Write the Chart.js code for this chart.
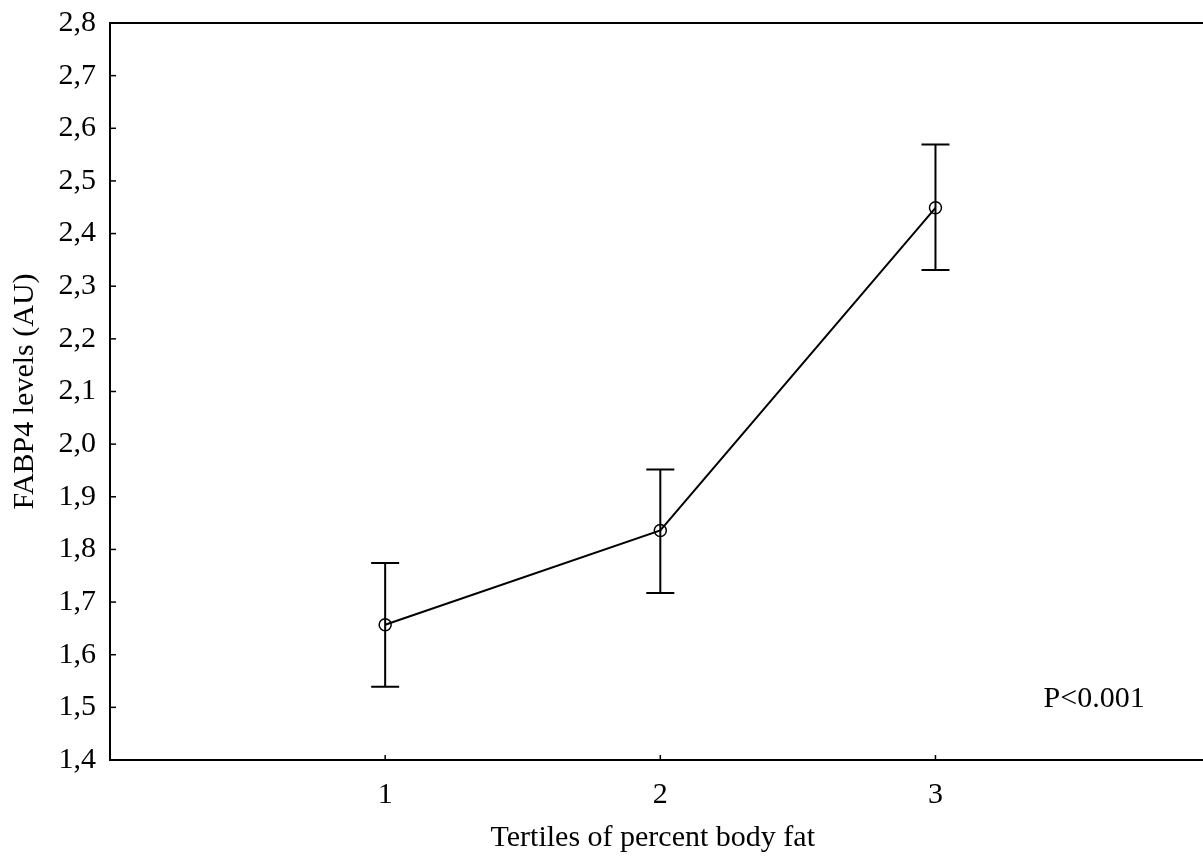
<!DOCTYPE html>
<html>
<head>
<meta charset="utf-8">
<script src="https://cdn.jsdelivr.net/npm/chart.js@4/dist/chart.umd.min.js"></script>
<style>
  html, body { margin: 0; padding: 0; background: #fff; }
  #c { display: block; }
</style>
</head>
<body>
<canvas id="c" width="1203" height="867"></canvas>
<script>
// ---- data ----
const tertiles = [1, 2, 3];
const xTickLabels = ['1', '2', '3'];
const means = [1.657, 1.836, 2.449];
const lowerBars = [1.539, 1.717, 2.331];
const upperBars = [1.774, 1.952, 2.569];
const yMin = 1.4, yMax = 2.8, yStep = 0.1;
const xMin = 0, xMax = 3.945;
const xTitle = 'Tertiles of percent body fat';
const yTitle = 'FABP4 levels (AU)';
const annotationText = 'P<0.001';
const annotationPos = { x: 3.393, y: 1.516 };

const FONT = '"Liberation Serif", "Times New Roman", serif';

function zeroPad(s) { s.paddingTop = 0; s.paddingBottom = 0; s.paddingLeft = 0; s.paddingRight = 0; }

const framePlugin = {
  id: 'frame',
  afterDatasetsDraw(chart) {
    const { ctx, chartArea: a, scales } = chart;
    const xs = scales.x, ys = scales.y;
    const farRight = chart.width;
    ctx.save();
    ctx.strokeStyle = '#000';
    ctx.lineWidth = 2;
    ctx.lineCap = 'butt';
    // frame: top, left, bottom (open on the right, running to the edge)
    ctx.beginPath();
    ctx.moveTo(farRight, a.top); ctx.lineTo(a.left, a.top);
    ctx.lineTo(a.left, a.bottom); ctx.lineTo(farRight, a.bottom);
    ctx.stroke();
    // inward ticks on y
    ctx.lineWidth = 1.5;
    ys.ticks.forEach(t => {
      const y = ys.getPixelForValue(t.value);
      ctx.beginPath(); ctx.moveTo(a.left, y); ctx.lineTo(a.left + 6, y); ctx.stroke();
    });
    // inward ticks on x
    xs.ticks.forEach(t => {
      const x = xs.getPixelForValue(t.value);
      ctx.beginPath(); ctx.moveTo(x, a.bottom); ctx.lineTo(x, a.bottom - 5); ctx.stroke();
    });
    // error bars
    ctx.lineWidth = 2;
    tertiles.forEach((t, i) => {
      const x = xs.getPixelForValue(t);
      const yl = ys.getPixelForValue(lowerBars[i]);
      const yu = ys.getPixelForValue(upperBars[i]);
      ctx.beginPath();
      ctx.moveTo(x, yl); ctx.lineTo(x, yu);
      ctx.moveTo(x - 14, yl); ctx.lineTo(x + 14, yl);
      ctx.moveTo(x - 14, yu); ctx.lineTo(x + 14, yu);
      ctx.stroke();
    });
    // annotation
    ctx.fillStyle = '#000';
    ctx.font = '30px ' + FONT;
    ctx.textAlign = 'left';
    ctx.textBaseline = 'middle';
    ctx.fillText(annotationText, xs.getPixelForValue(annotationPos.x), ys.getPixelForValue(annotationPos.y));
    ctx.restore();
  }
};

new Chart(document.getElementById('c'), {
  type: 'line',
  data: {
    datasets: [{
      data: tertiles.map((t, i) => ({ x: t, y: means[i] })),
      borderColor: '#000',
      borderWidth: 2,
      pointRadius: 6,
      pointBorderWidth: 1.5,
      pointBorderColor: '#000',
      pointBackgroundColor: 'rgba(0,0,0,0)',
      fill: false,
      tension: 0
    }]
  },
  options: {
    responsive: false,
    animation: false,
    layout: { padding: { top: 23, right: 0, left: 0, bottom: 0 } },
    plugins: { legend: { display: false }, tooltip: { enabled: false } },
    scales: {
      x: {
        type: 'linear',
        min: xMin,
        max: xMax,
        afterBuildTicks: s => { s.ticks = tertiles.map(v => ({ value: v })); },
        afterFit: s => { s.height = 107; zeroPad(s); },
        grid: { display: false, drawTicks: false },
        border: { display: false },
        ticks: {
          color: '#000',
          font: { family: FONT, size: 30 },
          padding: 17,
          callback: (v) => xTickLabels[tertiles.indexOf(v)] ?? ''
        },
        title: {
          display: true, text: xTitle, color: '#000',
          font: { family: FONT, size: 30 },
          padding: { top: 0, bottom: 11 }
        }
      },
      y: {
        type: 'linear',
        min: yMin, max: yMax,
        afterFit: s => { s.width = 110; zeroPad(s); },
        grid: { display: false, drawTicks: false },
        border: { display: false },
        ticks: {
          stepSize: yStep,
          color: '#000',
          font: { family: FONT, size: 30 },
          padding: 14,
          callback: v => v.toFixed(1).replace('.', ',')
        },
        title: {
          display: true, text: yTitle, color: '#000',
          font: { family: FONT, size: 30 },
          padding: { top: 7, bottom: 0 }
        }
      }
    }
  },
  plugins: [framePlugin]
});
</script>
</body>
</html>
